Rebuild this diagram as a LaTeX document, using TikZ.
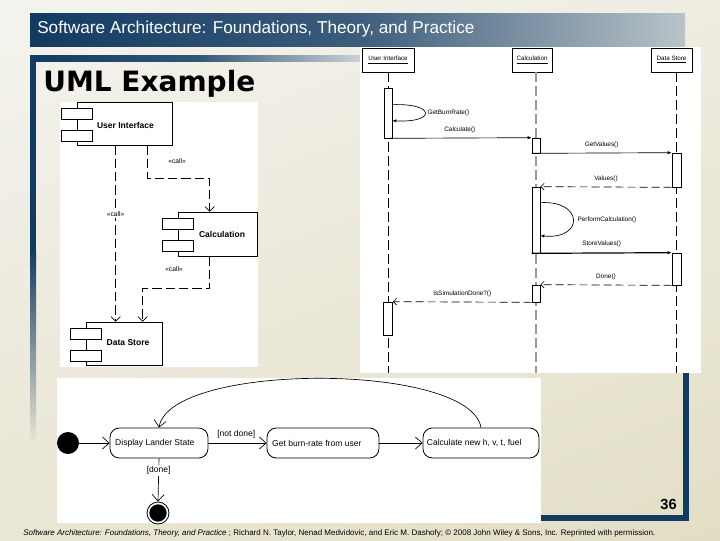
\documentclass[tikz,border=0pt]{standalone}
\usepackage{fontspec}
\setmainfont{Liberation Sans}
\newfontfamily\umlhead{DejaVu Sans}
\usetikzlibrary{positioning,fit,calc,arrows.meta,shadings}
\definecolor{slideblue}{HTML}{123B62}
\definecolor{bargray}{HTML}{B9C3C9}
\definecolor{bgUL}{HTML}{F4F3EE}
\definecolor{bgUR}{HTML}{EFEDE2}
\definecolor{bgLL}{HTML}{E9E6D4}
\definecolor{bgLR}{HTML}{E2DEC5}
\definecolor{lifegray}{HTML}{9A9A9A}

% two small boxes on the left edge of a component
\newcommand{\compicons}[1]{%
  \draw[fill=white,line width=0.5pt] ($(#1.north west)+(-15.5,7)$) rectangle ++(31,10.5);
  \draw[fill=white,line width=0.5pt] ($(#1.north west)+(-15.5,29)$) rectangle ++(31,10.5);}

\begin{document}
\begin{tikzpicture}[x=0.75pt,y=-0.75pt,
  comp/.style={draw,fill=white,inner sep=0pt,line width=0.5pt},
  complabel/.style={font=\fontsize{6.4}{7}\selectfont\bfseries,inner sep=0pt},
  dep/.style={dash pattern=on 7pt off 3pt,line width=0.5pt,-{Straight Barb[length=3.5pt,width=7pt]}},
  stereo/.style={font=\fontsize{5}{6}\selectfont,inner sep=1pt,fill=white},
  head/.style={draw,fill=white,inner sep=0pt,line width=0.5pt},
  headlabel/.style={font=\fontsize{4.7}{5}\selectfont,inner sep=0pt},
  life/.style={dash pattern=on 7pt off 3.5pt,line width=0.6pt},
  bar/.style={draw,fill=white,inner sep=0pt,line width=0.5pt},
  msg/.style={line width=0.5pt,-{Latex[length=3pt,width=2.5pt]}},
  ret/.style={dash pattern=on 6pt off 3pt,line width=0.5pt,-{Straight Barb[length=2.5pt,width=5pt]}},
  msglabel/.style={font=\fontsize{4.8}{5}\selectfont,inner sep=1pt},
  state/.style={draw,rounded corners=7pt,inner sep=0pt,line width=0.6pt},
  statetext/.style={font=\fontsize{6.4}{7}\selectfont,inner sep=0pt},
  trans/.style={line width=0.5pt,-{Straight Barb[length=5pt,width=9pt]}},
  guard/.style={font=\fontsize{6.4}{7}\selectfont,inner sep=1pt}]
\useasboundingbox (0,0) rectangle (720,540);
% slide background and frame
\shade[upper left=bgUL,upper right=bgUR,lower left=bgLL,lower right=bgLR] (0,0) rectangle (720,540);
\shade[left color=slideblue,right color=bargray,middle color=slideblue!75!bargray] (30,13) rectangle (685,46);
\node[anchor=west,text=white,font=\fontsize{12.9}{15}\selectfont,inner sep=0pt] (title) at (37,29.5) {Software Architecture: Foundations, Theory, and Practice};
\shade[left color=slideblue,right color=bargray!70!white,middle color=slideblue!80!bargray] (30,55) rectangle (365,61);
\fill[slideblue] (30,55) rectangle (36,250);
\shade[top color=slideblue,bottom color=bgLL] (30,250) rectangle (36,442);
\node[anchor=base west,font=\umlhead\bfseries\fontsize{21}{25}\selectfont,inner sep=0pt] (heading) at (43,91) {UML Example};

% component diagram
\fill[white] (60,102) rectangle (258,367);
\node[comp,fit={(77,102) (172,145)}] (ui) {};
\compicons{ui}
\node[complabel] (uilbl) at (125.5,125) {User Interface};
\node[comp,fit={(178,212) (257,256)}] (calc) {};
\compicons{calc}
\node[complabel] (calclbl) at (222,234) {Calculation};
\node[comp,fit={(86,322) (162,365)}] (ds) {};
\compicons{ds}
\node[complabel] (dslbl) at (128,343) {Data Store};
\draw[dep] ($(ui.south west)+(71,0)$) -- ++(0,33) -| ($(calc.north west)+(32,0)$);
\draw[dep] ($(ui.south west)+(39,0)$) -- ($(ds.north west)+(30,0)$)
  node[stereo,pos=0.39] (c2) {«call»};
\draw[dep] ($(calc.south west)+(32,0)$) -- ++(0,32) -| ($(ds.north west)+(57,0)$);
\node[stereo] (c1) at (177,161) {«call»};
\node[stereo] (c3) at (174,269) {«call»};

% sequence diagram
\fill[white] (360,47) rectangle (701,373);
\node[head,fit={(362,48) (414,72)}] (uiH) {};
\node[headlabel] (uiHl) at (uiH) {\underline{User Interface}};
\node[head,fit={(512,48) (552,72)}] (calcH) {};
\node[headlabel] (calcHl) at (calcH) {\underline{Calculation}};
\node[head,fit={(651,48) (692,72)}] (dsH) {};
\node[headlabel] (dsHl) at (dsH) {\underline{Data Store}};
\coordinate (uiL) at (388,373);
\coordinate (calcL) at (536,373);
\coordinate (dsL) at (676.5,373);
\draw[life] (uiH.south -| uiL) -- (uiL);
\draw[life,lifegray,line width=1pt] (calcH.south -| calcL) -- (calcL);
\draw[life] (dsH.south -| dsL) -- (dsL);
\node[bar,fit={(384,88) (392,138)}] (uiA) {};
\node[bar,fit={(383.5,302) (392.5,335)}] (uiB) {};
\node[bar,fit={(532,138) (540,153)}] (calcA) {};
\node[bar,fit={(532,187) (540,253)}] (calcB) {};
\node[bar,fit={(532,285) (540,302)}] (calcC) {};
\node[bar,fit={(672,153) (681,187)}] (dsA) {};
\node[bar,fit={(672,253) (681,285)}] (dsB) {};
\draw[msg] ($(uiA.north east)+(0,17)$) .. controls (436,103) and (436,123) .. ($(uiA.north east)+(0,33)$);
\node[msglabel,anchor=west] (m1) at (426,113) {GetBurnRate()};
\draw[msg] (uiA.south) -- (calcA.north west) node[msglabel,midway,above=3pt] (m2) {Calculate()};
\draw[msg] (calcA.south west) -- (dsA.north west) node[msglabel,midway,above=3pt] (m3) {GetValues()};
\draw[ret] (dsA.south west) -- (calcB.north east) node[msglabel,midway,above=3pt] (m4) {Values()};
\draw[msg] ($(calcB.north east)+(0,16)$) .. controls (584,200) and (584,240) .. ($(calcB.north east)+(0,49)$);
\node[msglabel,anchor=west] (m5) at (576,220) {PerformCalculation()};
\draw[msg,line width=0.9pt] (calcB.south west) -- (dsB.north west) node[msglabel,midway,above=3pt] (m6) {StoreValues()};
\draw[ret] (dsB.south west) -- (calcC.north east) node[msglabel,midway,above=3pt] (m7) {Done()};
\draw[ret] (calcC.south west) -- (uiB.north east) node[msglabel,midway,above=3pt] (m8) {IsSimulationDone?()};

% state diagram
\fill[white] (57,378) rectangle (541,523);
\node[circle,fill=black,minimum size=16.5pt,inner sep=0pt] (init) at (68,443) {};
\node[state,fit={(110,428) (208,458)}] (disp) {};
\node[statetext,right=4pt of disp.west,anchor=west] (displbl) {Display Lander State};
\node[state,fit={(267,428) (379,458)}] (burn) {};
\node[statetext,right=4pt of burn.west,anchor=west] (burnlbl) {Get burn-rate from user};
\node[state,fit={(423,428) (539,458)}] (newv) {};
\node[statetext,right=3pt of newv.west,anchor=west] (newvlbl) {Calculate new h, v, t, fuel};
\node[circle,draw,line width=0.6pt,minimum size=16.5pt,inner sep=0pt] (fin) at (158,513) {};
\node[circle,fill=black,minimum size=13pt,inner sep=0pt] (finin) at (fin) {};
\draw[trans] (init) -- (disp.west);
\draw[trans] (disp.east) -- (burn.west) node[guard,pos=0.48,above=2pt] (g1) {[not done]};
\draw[trans] (burn.east) -- (newv.west);
\draw[trans] (newv.north) .. controls (470,362) and (170,362) .. (disp.north);
\draw[trans] (disp.south) -- (fin.north) node[guard,fill=white,pos=0.28] (g2) {[done]};

% lower right frame
\fill[slideblue] (683,373) rectangle (689,521);
\fill[slideblue] (541,515) rectangle (689,521);
\node[anchor=base east,font=\fontsize{11}{13}\selectfont\bfseries,inner sep=0pt] (pageno) at (677,509) {36};
\node[anchor=base west,font=\fontsize{6}{7}\selectfont,inner sep=0pt] (footer) at (23,535)
  {\textit{Software Architecture: Foundations, Theory, and Practice} ; Richard N. Taylor, Nenad Medvidovic, and Eric M. Dashofy; © 2008 John Wiley \& Sons, Inc. Reprinted with permission.};
\end{tikzpicture}
\end{document}
